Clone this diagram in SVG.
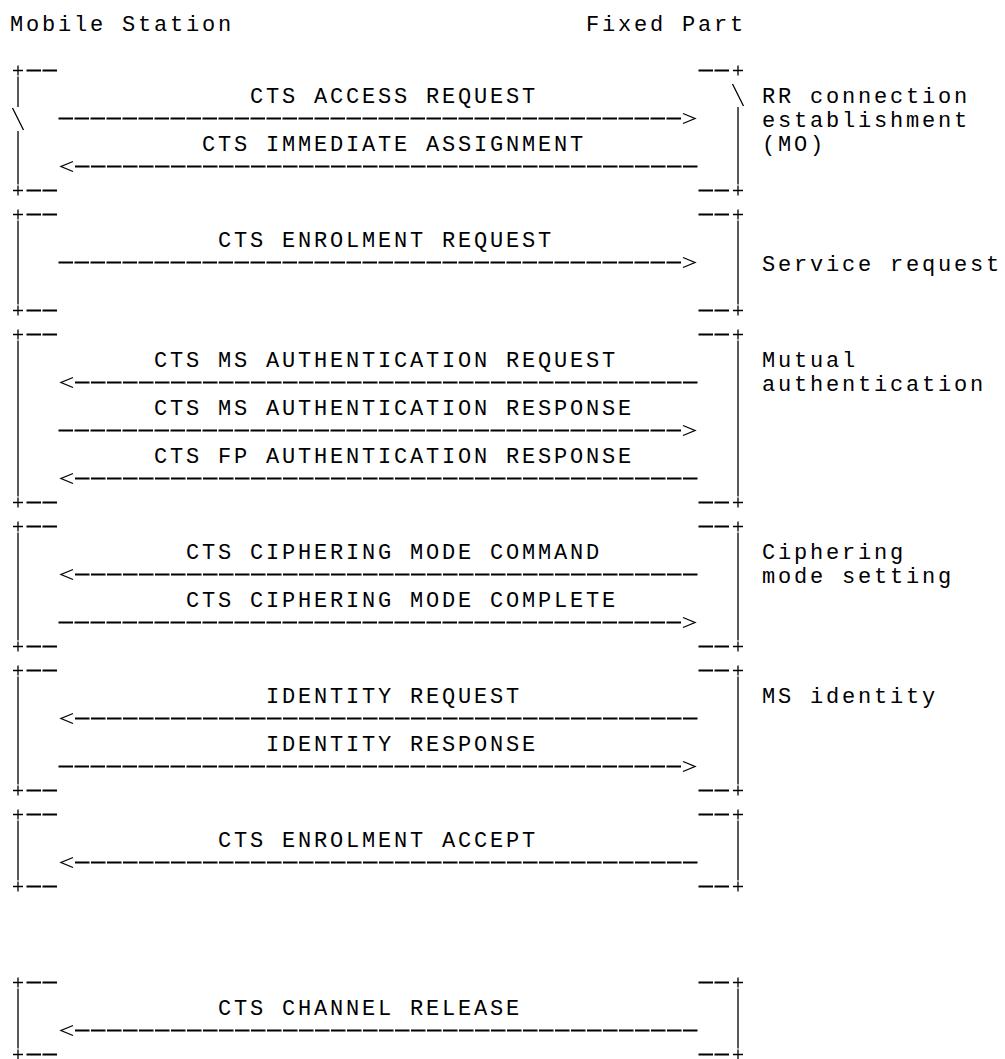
<svg xmlns="http://www.w3.org/2000/svg" xmlns:xlink="http://www.w3.org/1999/xlink" width="1005" height="1059" viewBox="0 0 1005 1059">
<style>
.t { font-family: "Liberation Mono", "DejaVu Sans Mono", monospace; font-size: 22px; letter-spacing: 2.8px; fill: #000; }
.br { stroke: #000; stroke-width: 1.3; fill: none; }
.dash { stroke: #000; stroke-width: 2; stroke-dasharray: 14.5 1.5; fill: none; }
.arr { stroke: #000; stroke-width: 2; stroke-dasharray: 14.5 1.5; fill: none; marker-end: url(#ah); }
</style>
<defs>
<marker id="ah" markerUnits="userSpaceOnUse" markerWidth="16" markerHeight="14" viewBox="0 -7 16 14" refX="0" refY="0" orient="auto">
<path d="M1.5,-5 L13.5,0 L1.5,5" fill="none" stroke="#000" stroke-width="1.3"/>
</marker>
<g id="cl"><path class="br" d="M13,0H23M18,-5V5"/><path class="dash" d="M26.5,0H57.5"/></g>
<g id="cr"><path class="dash" d="M698.5,0H729.5"/><path class="br" d="M733,0H743M738,-5V5"/></g>
</defs>
<rect width="1005" height="1059" fill="#fff"/>

<g id="mobile-station"><text class="t" x="10" y="31">Mobile Station</text></g>
<g id="fixed-part"><text class="t" x="586" y="31">Fixed Part</text></g>

<g id="rr-connection-establishment">
<use xlink:href="#cl" y="70.5"/><use xlink:href="#cr" y="70.5"/>
<use xlink:href="#cl" y="190.5"/><use xlink:href="#cr" y="190.5"/>
<path class="br" d="M18,76.5V107M18,131V184.5M12.5,108L23.5,130"/>
<path class="br" d="M732.5,84L743.5,106M738,107V184.5"/>
<text class="t" x="762" y="103">RR connection</text>
<text class="t" x="762" y="127">establishment</text>
<text class="t" x="762" y="151">(MO)</text>
</g>

<g id="service-request">
<use xlink:href="#cl" y="214.5"/><use xlink:href="#cr" y="214.5"/>
<use xlink:href="#cl" y="310.5"/><use xlink:href="#cr" y="310.5"/>
<path class="br" d="M18,220.5V304.5M738,220.5V304.5"/>
<text class="t" x="762" y="271">Service request</text>
</g>

<g id="mutual-authentication">
<use xlink:href="#cl" y="334.5"/><use xlink:href="#cr" y="334.5"/>
<use xlink:href="#cl" y="502.5"/><use xlink:href="#cr" y="502.5"/>
<path class="br" d="M18,340.5V496.5M738,340.5V496.5"/>
<text class="t" x="762" y="367">Mutual</text>
<text class="t" x="762" y="391">authentication</text>
</g>

<g id="ciphering-mode-setting">
<use xlink:href="#cl" y="526.5"/><use xlink:href="#cr" y="526.5"/>
<use xlink:href="#cl" y="646.5"/><use xlink:href="#cr" y="646.5"/>
<path class="br" d="M18,532.5V640.5M738,532.5V640.5"/>
<text class="t" x="762" y="559">Ciphering</text>
<text class="t" x="762" y="583">mode setting</text>
</g>

<g id="ms-identity">
<use xlink:href="#cl" y="670.5"/><use xlink:href="#cr" y="670.5"/>
<use xlink:href="#cl" y="790.5"/><use xlink:href="#cr" y="790.5"/>
<path class="br" d="M18,676.5V784.5M738,676.5V784.5"/>
<text class="t" x="762" y="703">MS identity</text>
</g>

<g id="enrolment-accept">
<use xlink:href="#cl" y="814.5"/><use xlink:href="#cr" y="814.5"/>
<use xlink:href="#cl" y="886.5"/><use xlink:href="#cr" y="886.5"/>
<path class="br" d="M18,820.5V880.5M738,820.5V880.5"/>
</g>

<g id="channel-release">
<use xlink:href="#cl" y="982.5"/><use xlink:href="#cr" y="982.5"/>
<use xlink:href="#cl" y="1054.5"/><use xlink:href="#cr" y="1054.5"/>
<path class="br" d="M18,988.5V1048.5M738,988.5V1048.5"/>
</g>

<g id="connectors">
<text class="t" x="250" y="103">CTS ACCESS REQUEST</text>
<path class="arr" d="M58.5,118.5H681.5"/>
<text class="t" x="202" y="151">CTS IMMEDIATE ASSIGNMENT</text>
<path class="arr" d="M697.5,166.5H74.5"/>
<text class="t" x="218" y="247">CTS ENROLMENT REQUEST</text>
<path class="arr" d="M58.5,262.5H681.5"/>
<text class="t" x="154" y="367">CTS MS AUTHENTICATION REQUEST</text>
<path class="arr" d="M697.5,382.5H74.5"/>
<text class="t" x="154" y="415">CTS MS AUTHENTICATION RESPONSE</text>
<path class="arr" d="M58.5,430.5H681.5"/>
<text class="t" x="154" y="463">CTS FP AUTHENTICATION RESPONSE</text>
<path class="arr" d="M697.5,478.5H74.5"/>
<text class="t" x="186" y="559">CTS CIPHERING MODE COMMAND</text>
<path class="arr" d="M697.5,574.5H74.5"/>
<text class="t" x="186" y="607">CTS CIPHERING MODE COMPLETE</text>
<path class="arr" d="M58.5,622.5H681.5"/>
<text class="t" x="266" y="703">IDENTITY REQUEST</text>
<path class="arr" d="M697.5,718.5H74.5"/>
<text class="t" x="266" y="751">IDENTITY RESPONSE</text>
<path class="arr" d="M58.5,766.5H681.5"/>
<text class="t" x="218" y="847">CTS ENROLMENT ACCEPT</text>
<path class="arr" d="M697.5,862.5H74.5"/>
<text class="t" x="218" y="1015">CTS CHANNEL RELEASE</text>
<path class="arr" d="M697.5,1030.5H74.5"/>
</g>
</svg>
